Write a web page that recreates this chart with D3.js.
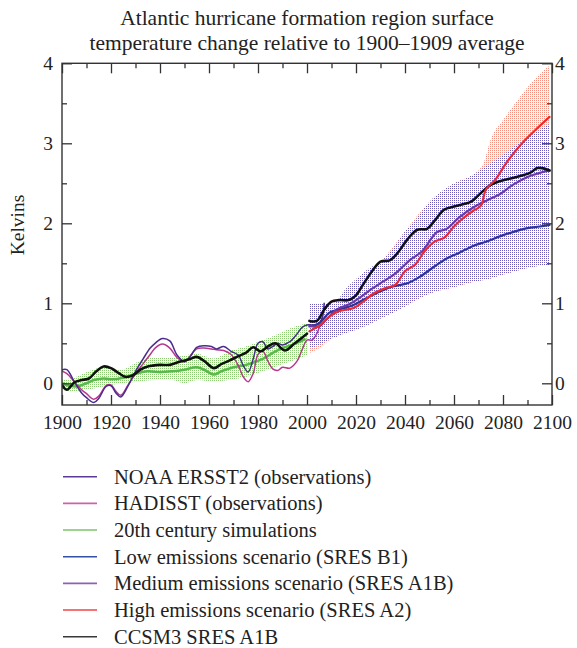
<!DOCTYPE html>
<html>
<head>
<meta charset="utf-8">
<script src="https://cdn.jsdelivr.net/npm/d3@7"></script>
<style>
  html, body { margin: 0; padding: 0; background: #fff; }
  svg { display: block; }
  text { font-family: "Liberation Serif", "DejaVu Serif", serif; fill: #222; }
</style>
</head>
<body>
<svg id="chart" width="577" height="648"></svg>
<script>
// ---------------- DATA ----------------
const titleLines = ["Atlantic hurricane formation region surface",
                    "temperature change relative to 1900\u20131909 average"];
const yLabel = "Kelvins";
const xMajorTicks = [1900, 1920, 1940, 1960, 1980, 2000, 2020, 2040, 2060, 2080, 2100];
const xMinorTicks = [1910, 1930, 1950, 1970, 1990, 2010, 2030, 2050, 2070, 2090];
const yMajorTicks = [0, 1, 2, 3, 4];
const yMinorTicks = [0.5, 1.5, 2.5, 3.5];

// NOAA ERSST2 and HADISST observations
const obsYears = [1900,1902,1905,1908,1910,1913,1915,1918,1920,1922,1924,1927,1930,1933,1936,
                  1938,1941,1944,1947,1950,1952,1955,1958,1961,1963,1966,1969,1972,1974,1976,
                  1978,1980,1982,1984,1986,1988,1990,1993,1996,1998,2000,2002,2004,2006,2007];
const noaa = [0.17,0.17,0.02,-0.12,-0.18,-0.24,-0.19,-0.04,-0.03,-0.12,-0.17,-0.03,0.15,0.3,0.44,
              0.5,0.56,0.53,0.35,0.27,0.32,0.45,0.47,0.46,0.43,0.46,0.4,0.35,0.22,0.14,
              0.3,0.5,0.52,0.43,0.46,0.5,0.48,0.52,0.62,0.7,0.73,0.73,0.73,0.8,1.0];
const hadisst = [0.15,0.12,0.02,-0.08,-0.13,-0.2,-0.16,-0.03,-0.02,-0.1,-0.15,-0.02,0.12,0.24,0.36,
                 0.44,0.49,0.44,0.32,0.27,0.33,0.43,0.44,0.43,0.42,0.41,0.36,0.22,0.08,0.02,
                 0.12,0.36,0.4,0.28,0.18,0.16,0.2,0.19,0.28,0.42,0.54,0.54,0.62,0.8,0.95];

// 20th century simulations: ensemble mean and range
const sim20Years = [1900,1903,1906,1910,1913,1917,1920,1925,1930,1935,1940,1945,1950,1955,1958,
                    1962,1965,1970,1975,1980,1983,1986,1990,1994,1997,1999];
const sim20 = [0.0,-0.03,-0.04,0.0,0.04,0.06,0.05,0.07,0.12,0.15,0.14,0.15,0.17,0.2,0.17,
               0.11,0.15,0.2,0.23,0.28,0.32,0.38,0.44,0.48,0.52,0.55];
const sim20BandYears = [1900,1904,1910,1917,1924,1931,1938,1945,1950,1955,1962,1968,1975,1982,1989,1995,2000];
const sim20Low  = [-0.08,-0.1,-0.08,-0.04,0.0,0.02,0.04,0.04,0.0,0.04,0.02,0.04,0.08,0.15,0.23,0.29,0.35];
const sim20High = [0.05,0.06,0.14,0.2,0.17,0.27,0.33,0.32,0.35,0.37,0.31,0.4,0.46,0.54,0.63,0.71,0.75];

// CCSM3 (20th century run and SRES A1B projection)
const ccsm20Years = [1900,1902,1905,1908,1911,1914,1917,1920,1923,1926,1929,1932,1935,1940,1944,
                     1948,1952,1955,1958,1962,1965,1968,1972,1975,1978,1981,1984,1987,1991,1995,2000];
const ccsm20 = [-0.02,-0.08,0.01,0.04,0.06,0.15,0.21,0.19,0.13,0.08,0.1,0.17,0.21,0.23,0.23,
                0.27,0.3,0.33,0.28,0.19,0.24,0.28,0.34,0.38,0.45,0.4,0.46,0.5,0.41,0.5,0.62];
const ccsmA1BYears = [2001,2004,2007,2010,2013,2017,2020,2023,2027,2030,2034,2037,2041,2045,2049,
                      2052,2056,2060,2064,2067,2071,2075,2079,2083,2087,2091,2094,2096,2099];
const ccsmA1B = [0.78,0.78,0.92,1.02,1.04,1.04,1.1,1.24,1.42,1.52,1.54,1.63,1.8,1.92,1.93,
                 2.03,2.17,2.21,2.24,2.27,2.38,2.48,2.53,2.56,2.59,2.63,2.69,2.69,2.66];

// Scenario ensemble means
const b1Years = [2001,2005,2009,2013,2019,2024,2030,2035,2041,2046,2052,2057,2062,2068,2073,2079,2084,2090,2095,2099];
const b1 = [0.71,0.75,0.88,0.92,0.98,1.06,1.15,1.21,1.25,1.33,1.46,1.56,1.63,1.72,1.77,1.84,1.89,1.94,1.96,1.98];
const a1bYears = [2001,2005,2008,2012,2018,2022,2026,2031,2036,2042,2047,2053,2057,2062,2068,2073,2079,2084,2090,2095,2099];
const a1b = [0.72,0.71,0.8,0.92,1.0,1.08,1.17,1.27,1.37,1.54,1.65,1.89,1.93,2.07,2.2,2.28,2.37,2.48,2.58,2.63,2.66];
const a2Years = [2001,2005,2009,2013,2019,2023,2027,2032,2036,2040,2044,2048,2052,2056,2060,2064,2068,2071,2073,2077,2081,2085,2089,2093,2099];
const a2 = [0.65,0.72,0.83,0.9,0.94,1.02,1.12,1.19,1.23,1.4,1.48,1.65,1.77,1.82,1.96,2.07,2.16,2.22,2.42,2.55,2.74,2.9,3.04,3.16,3.33];

// Scenario ranges
const bandYears = [2001,2005,2010,2012,2015,2020,2025,2030,2035,2040,2045,2050,2055,2060,2065,2070,2075,2080,2085,2090,2095,2099];
const scenLow  = [0.44,0.48,0.56,0.58,0.62,0.67,0.73,0.81,0.88,0.96,1.05,1.12,1.17,1.2,1.25,1.28,1.31,1.36,1.4,1.44,1.47,1.48];
const scenHigh = [1.0,1.0,1.0,1.02,1.15,1.3,1.43,1.52,1.68,1.9,2.07,2.27,2.4,2.5,2.56,2.65,2.75,2.85,2.97,3.07,3.17,3.24];
const a2BandYears = [2001,2005,2010,2020,2030,2040,2050,2060,2070,2072,2075,2080,2085,2090,2095,2099];
const a2Low  = [0.38,0.44,0.56,0.67,0.81,0.96,1.12,1.2,1.28,1.29,1.31,1.36,1.4,1.44,1.47,1.48];
const a2High = [1.0,1.0,1.0,1.3,1.52,1.9,2.27,2.5,2.66,2.75,3.05,3.29,3.5,3.7,3.87,3.97];

const legendItems = [
  {label: "NOAA ERSST2 (observations)", key: "noaa"},
  {label: "HADISST (observations)", key: "hadisst"},
  {label: "20th century simulations", key: "sim20"},
  {label: "Low emissions scenario (SRES B1)", key: "b1"},
  {label: "Medium emissions scenario (SRES A1B)", key: "a1b"},
  {label: "High emissions scenario (SRES A2)", key: "a2"},
  {label: "CCSM3 SRES A1B", key: "ccsm"}
];

// ---------------- STYLE ----------------
const colors = {
  noaa: "#4b2b8e", hadisst: "#b8388f", sim20: "#5ab84e", b1: "#2f3591",
  a1b: "#6c3b9d", a2: "#ee2a2c", ccsm: "#111111"
};
const legendColors = {
  noaa: "#5a3a98", hadisst: "#cc63aa", sim20: "#7cc46a", b1: "#3350a6",
  a1b: "#8e62b2", a2: "#f04646", ccsm: "#383838"
};

// ---------------- LAYOUT ----------------
const svg = d3.select("#chart");
const pL = 62, pR = 552, pT = 63.3, pB = 405;
const x = d3.scaleLinear().domain([1900, 2100]).range([pL, pR]);
const y = d3.scaleLinear().domain([0, 4]).range([383.3, pT]);

// patterns (stipple: one dot per 2x2 cell)
const defs = svg.append("defs");
function stipple(id, color, bg) {
  const p = defs.append("pattern").attr("id", id).attr("patternUnits", "userSpaceOnUse")
    .attr("x", 0).attr("y", 0).attr("width", 2).attr("height", 2);
  p.append("rect").attr("width", 2).attr("height", 2).attr("fill", bg)
    .attr("shape-rendering", "crispEdges");
  p.append("rect").attr("x", 0).attr("y", 0).attr("width", 1).attr("height", 1).attr("fill", color)
    .attr("shape-rendering", "crispEdges");
}
stipple("patGreen", "#8ccc74", "rgba(255,255,255,0)");
stipple("patRed", "#f58e7e", "rgba(255,255,255,0)");
stipple("patPurple", "#6a5cba", "#ffffff");

defs.append("clipPath").attr("id", "plotClip").append("rect")
  .attr("x", pL).attr("y", pT).attr("width", pR - pL).attr("height", pB - pT);

const plot = svg.append("g").attr("clip-path", "url(#plotClip)");

function zip(xs, ys) { return xs.map((v, i) => [v, ys[i]]); }
function zip3(xs, lo, hi) { return xs.map((v, i) => [v, lo[i], hi[i]]); }

const area = d3.area().x(d => x(d[0])).y0(d => y(d[1])).y1(d => y(d[2])).curve(d3.curveMonotoneX);
const line = d3.line().x(d => x(d[0])).y(d => y(d[1])).curve(d3.curveCatmullRom.alpha(0.5));

// bands
plot.append("path").attr("d", area(zip3(sim20BandYears, sim20Low, sim20High))).attr("fill", "url(#patGreen)");
plot.append("path").attr("d", area(zip3(a2BandYears, a2Low, a2High))).attr("fill", "url(#patRed)");
plot.append("path").attr("d", area(zip3(bandYears, scenLow, scenHigh))).attr("fill", "url(#patPurple)");

function drawLine(data, color, width) {
  plot.append("path").attr("d", line(data)).attr("fill", "none")
    .attr("stroke", color).attr("stroke-width", width)
    .attr("stroke-linejoin", "round").attr("stroke-linecap", "round");
}
drawLine(zip(sim20Years, sim20), colors.sim20, 2.6);
drawLine(zip(obsYears, hadisst), colors.hadisst, 1.5);
drawLine(zip(obsYears, noaa), colors.noaa, 1.5);
drawLine(zip(ccsm20Years, ccsm20), colors.ccsm, 2.6);
drawLine(zip(b1Years, b1), colors.b1, 2.2);
drawLine(zip(a1bYears, a1b), colors.a1b, 2.2);
drawLine(zip(ccsmA1BYears, ccsmA1B), colors.ccsm, 2.6);
drawLine(zip(a2Years, a2), colors.a2, 2.2);

// ---------------- AXES ----------------
const axisColor = "#333";
const tickFont = "19.5px";
function styleAxis(g) {
  g.select(".domain").remove();
  g.selectAll(".tick line").attr("stroke", axisColor).attr("stroke-width", 1.3);
  g.selectAll(".tick text").attr("fill", "#222").style("font-size", tickFont)
    .style("font-family", '"Liberation Serif", "DejaVu Serif", serif');
}
// bottom
svg.append("g").attr("transform", `translate(0,${pB})`)
  .call(d3.axisBottom(x).tickValues(xMajorTicks).tickSize(-10).tickPadding(10).tickFormat(d3.format("d"))).call(styleAxis);
svg.append("g").attr("transform", `translate(0,${pB})`)
  .call(d3.axisBottom(x).tickValues(xMinorTicks).tickSize(-5).tickFormat("")).call(styleAxis);
// top
svg.append("g").attr("transform", `translate(0,${pT})`)
  .call(d3.axisTop(x).tickValues(xMajorTicks).tickSize(-10).tickFormat("")).call(styleAxis);
svg.append("g").attr("transform", `translate(0,${pT})`)
  .call(d3.axisTop(x).tickValues(xMinorTicks).tickSize(-5).tickFormat("")).call(styleAxis);
// left
svg.append("g").attr("transform", `translate(${pL},0)`)
  .call(d3.axisLeft(y).tickValues(yMajorTicks).tickSize(-10).tickPadding(9).tickFormat(d3.format("d"))).call(styleAxis);
svg.append("g").attr("transform", `translate(${pL},0)`)
  .call(d3.axisLeft(y).tickValues(yMinorTicks).tickSize(-5).tickFormat("")).call(styleAxis);
// right
svg.append("g").attr("transform", `translate(${pR},0)`)
  .call(d3.axisRight(y).tickValues(yMajorTicks).tickSize(-10).tickPadding(3).tickFormat(d3.format("d"))).call(styleAxis);
svg.append("g").attr("transform", `translate(${pR},0)`)
  .call(d3.axisRight(y).tickValues(yMinorTicks).tickSize(-5).tickFormat("")).call(styleAxis);

// frame
svg.append("rect").attr("x", pL).attr("y", pT).attr("width", pR - pL).attr("height", pB - pT)
  .attr("fill", "none").attr("stroke", axisColor).attr("stroke-width", 1.4);

// ---------------- TEXT ----------------
svg.append("g").selectAll("text").data(titleLines).join("text")
  .attr("x", (pL + pR) / 2).attr("y", (d, i) => 25 + i * 24.5)
  .attr("text-anchor", "middle").style("font-size", "21.5px").text(d => d);

svg.append("text").attr("transform", "translate(24,225) rotate(-90)")
  .attr("text-anchor", "middle").style("font-size", "19.5px").text(yLabel);

// ---------------- LEGEND ----------------
const lg = svg.append("g").selectAll("g").data(legendItems).join("g")
  .attr("transform", (d, i) => `translate(0,${476.7 + i * 26.67})`);
lg.append("line").attr("x1", 63).attr("x2", 97).attr("y1", 0).attr("y2", 0)
  .attr("stroke", d => legendColors[d.key]).attr("stroke-width", 1.6);
lg.append("text").attr("x", 114).attr("y", 0).attr("dy", "0.34em")
  .style("font-size", "20.5px").text(d => d.label);
</script>
</body>
</html>
